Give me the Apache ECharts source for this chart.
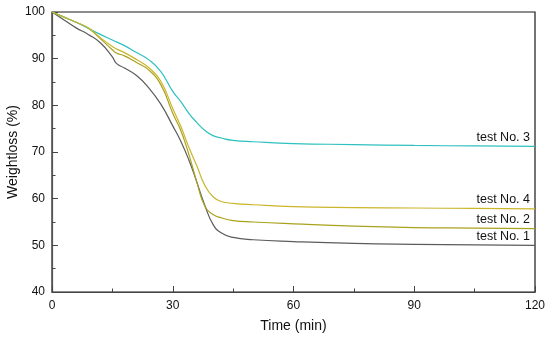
<!DOCTYPE html>
<html>
<head>
<meta charset="utf-8">
<script src="https://cdn.jsdelivr.net/npm/echarts@6/dist/echarts.min.js"></script>
<style>html,body{margin:0;padding:0;background:#fff}#c{width:550px;height:338px}</style>
</head>
<body>
<div id="c"></div>
<script>
const times   = [0, 3, 6, 9, 12, 15, 16, 18, 21, 24, 27, 30, 32, 34, 36, 38, 40, 42, 45, 50, 60, 75, 90, 105, 120];
const test1   = [100, 98.3, 96.6, 95.2, 93.4, 90.4, 89.0, 88.0, 86.4, 83.8, 80.3, 75.6, 72.3, 68.3, 63.5, 58.5, 54.5, 52.7, 51.7, 51.2, 50.8, 50.4, 50.2, 50.1, 50.0];
const test2   = [100, 98.9, 97.8, 96.5, 94.3, 91.9, 91.2, 90.6, 89.2, 87.6, 84.5, 78.3, 74.6, 69.5, 63.5, 58.3, 56.6, 55.9, 55.3, 55.0, 54.6, 54.1, 53.8, 53.7, 53.6];
const test3   = [100, 98.9, 97.8, 96.5, 95.2, 94.0, 93.6, 92.8, 91.3, 89.8, 87.3, 83.0, 80.8, 78.3, 76.3, 74.6, 73.5, 73.0, 72.5, 72.2, 71.8, 71.6, 71.4, 71.3, 71.2];
const test4   = [100, 98.9, 97.8, 96.6, 94.5, 92.6, 92.1, 91.3, 89.8, 88.1, 85.2, 79.3, 75.5, 71.0, 67.0, 62.8, 60.4, 59.4, 59.0, 58.7, 58.3, 58.1, 58.0, 57.9, 57.8];
const names   = ['test No. 1', 'test No. 2', 'test No. 3', 'test No. 4'];
const xTicks  = [0, 30, 60, 90, 120];
const yTicks  = [40, 50, 60, 70, 80, 90, 100];

const colors = ['#5c5c5c', '#a9a21c', '#2fc0c0', '#cbb52a'];
const datas = [test1, test2, test3, test4];
const FONT = 'Liberation Sans, Arial, sans-serif';

const series = datas.map((d, i) => ({
  name: names[i],
  type: 'line',
  data: d.map((v, j) => [times[j], v]),
  showSymbol: false,
  smooth: 0.5,
  lineStyle: { color: colors[i], width: 1.2 },
  itemStyle: { color: colors[i] },
  z: 3,
  markPoint: {
    symbol: 'circle', symbolSize: 0,
    data: [{ coord: [times[times.length - 1], d[d.length - 1]] }],
    label: {
      show: true, formatter: names[i], position: 'left', distance: 5,
      offset: [0, -9], color: '#111', fontSize: 12.5, fontFamily: FONT
    }
  }
}));

const chart = echarts.init(document.getElementById('c'), null, { renderer: 'canvas' });
chart.setOption({
  animation: false,
  backgroundColor: '#fff',
  grid: { left: 52, right: 15, top: 12, bottom: 46, outerBoundsMode: 'none', containLabel: false, show: true, borderColor: '#1a1a1a', borderWidth: 1.2, backgroundColor: 'transparent' },
  xAxis: {
    type: 'value', min: xTicks[0], max: xTicks[xTicks.length - 1], interval: 30,
    name: 'Time (min)', nameLocation: 'middle', nameGap: 27,
    nameTextStyle: { fontSize: 14, color: '#111', fontFamily: FONT },
    axisLine: { show: true, lineStyle: { color: '#444', width: 1.2 } },
    axisTick: { show: true, inside: true, length: 6, lineStyle: { color: '#444' } },
    minorTick: { show: true, splitNumber: 2, length: 3.5, lineStyle: { color: '#444' } },
    splitLine: { show: false },
    axisLabel: { fontSize: 12, color: '#111', margin: 8, fontFamily: FONT }
  },
  yAxis: {
    type: 'value', min: yTicks[0], max: yTicks[yTicks.length - 1], interval: 10,
    name: 'Weightloss (%)', nameLocation: 'middle', nameGap: 32, nameMoveOverlap: false,
    nameTextStyle: { fontSize: 14, color: '#111', fontFamily: FONT },
    axisLine: { show: true, lineStyle: { color: '#555', width: 1.2 } },
    axisTick: { show: true, inside: true, length: 6, lineStyle: { color: '#444' } },
    minorTick: { show: true, splitNumber: 2, length: 3.5, lineStyle: { color: '#444' } },
    splitLine: { show: false },
    axisLabel: { fontSize: 12, color: '#111', margin: 7, fontFamily: FONT }
  },
  series: series
});
</script>
</body>
</html>
